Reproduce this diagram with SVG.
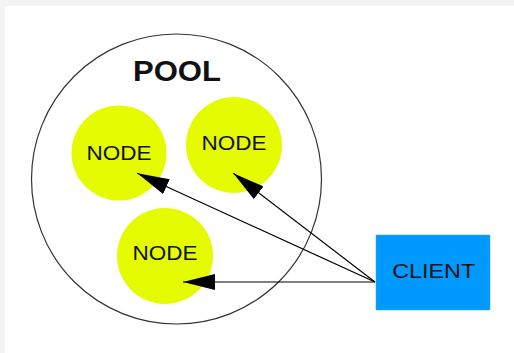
<svg xmlns="http://www.w3.org/2000/svg" width="514" height="353" viewBox="0 0 514 353">
  <style>
    .node-shape { fill: #e4fb00; }
    .label { font-family: "Liberation Sans", Arial, sans-serif; font-size: 20px; fill: #111; text-anchor: middle; }
    .title { font-family: "Liberation Sans", Arial, sans-serif; font-size: 29px; font-weight: bold; fill: #111; text-anchor: middle; }
    .edge { stroke: #000; stroke-width: 1.2; fill: none; marker-end: url(#arrow); }
  </style>
  <defs>
    <marker id="arrow" markerUnits="userSpaceOnUse" markerWidth="34" markerHeight="18" refX="32" refY="8" orient="auto">
      <path d="M0,0 L32,8 L0,16 Z" fill="#000"/>
    </marker>
  </defs>

  <!-- page background -->
  <rect x="0" y="0" width="514" height="353" fill="#f4f4f4"/>
  <rect x="5" y="6" width="509" height="347" fill="#fff"/>

  <!-- pool boundary -->
  <g id="pool">
    <circle cx="176.5" cy="179" r="145" fill="none" stroke="#333" stroke-width="1.2"/>
    <text class="title" x="177" y="81" textLength="88" lengthAdjust="spacingAndGlyphs">POOL</text>
  </g>

  <g id="node1">
    <circle class="node-shape" cx="119" cy="153" r="47.5"/>
    <text class="label" x="119" y="159.5" textLength="65" lengthAdjust="spacingAndGlyphs">NODE</text>
  </g>
  <g id="node2">
    <circle class="node-shape" cx="234" cy="145" r="48"/>
    <text class="label" x="234" y="149.5" textLength="65" lengthAdjust="spacingAndGlyphs">NODE</text>
  </g>
  <g id="node3">
    <circle class="node-shape" cx="165" cy="256" r="48"/>
    <text class="label" x="165" y="260.2" textLength="65" lengthAdjust="spacingAndGlyphs">NODE</text>
  </g>

  <g id="client">
    <rect x="376" y="235" width="114" height="75" fill="#0099ff" stroke="#3aa6ff" stroke-width="0.5"/>
    <text class="label" x="433.7" y="277.9" textLength="83" lengthAdjust="spacingAndGlyphs">CLIENT</text>
  </g>

  <!-- requests from the client to the pool nodes -->
  <g id="connectors">
    <line class="edge" x1="375" y1="282" x2="137.3" y2="173.3"/>
    <line class="edge" x1="375" y1="282" x2="233.3" y2="173.3"/>
    <line class="edge" x1="375" y1="282" x2="183" y2="282"/>
  </g>
</svg>
